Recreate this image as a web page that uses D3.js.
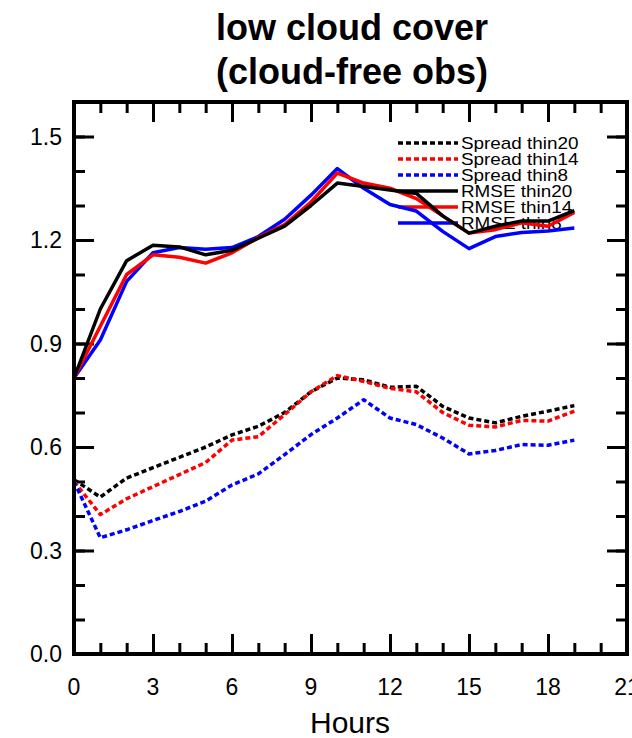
<!DOCTYPE html>
<html>
<head>
<meta charset="utf-8">
<script src="https://cdn.jsdelivr.net/npm/d3@7"></script>
<style>
  body { margin: 0; background: #fff; }
  text { font-family: "Liberation Sans", Arial, Helvetica, sans-serif; fill: #000; }
</style>
</head>
<body>
<div id="chart"></div>
<script>
//===============================
//  1.  Data
//===============================

var hours = [0, 1, 2, 3, 4, 5, 6, 7, 8, 9, 10, 11, 12, 13, 14, 15, 16, 17, 18, 19];

var spreadThin20 = [0.505, 0.455, 0.51, 0.54, 0.57, 0.60, 0.635, 0.66, 0.70, 0.76, 0.80, 0.795, 0.773, 0.776, 0.718, 0.684, 0.67, 0.689, 0.704, 0.72];
var spreadThin14 = [0.50, 0.404, 0.45, 0.485, 0.52, 0.555, 0.62, 0.63, 0.694, 0.76, 0.807, 0.79, 0.77, 0.76, 0.70, 0.663, 0.658, 0.677, 0.675, 0.704];
var spreadThin8  = [0.50, 0.337, 0.36, 0.387, 0.413, 0.443, 0.49, 0.522, 0.578, 0.636, 0.684, 0.737, 0.684, 0.665, 0.626, 0.58, 0.59, 0.607, 0.605, 0.62];

var rmseThin20 = [0.80, 1.00, 1.14, 1.185, 1.18, 1.157, 1.17, 1.205, 1.24, 1.30, 1.365, 1.355, 1.345, 1.335, 1.27, 1.22, 1.24, 1.255, 1.255, 1.285];
var rmseThin14 = [0.80, 0.95, 1.10, 1.157, 1.15, 1.133, 1.163, 1.207, 1.245, 1.31, 1.394, 1.365, 1.35, 1.32, 1.27, 1.22, 1.23, 1.25, 1.24, 1.28];
var rmseThin8  = [0.80, 0.91, 1.08, 1.163, 1.178, 1.173, 1.178, 1.21, 1.26, 1.33, 1.407, 1.35, 1.303, 1.284, 1.225, 1.175, 1.21, 1.222, 1.226, 1.235];

var xTicks = [0, 3, 6, 9, 12, 15, 18, 21];
var yTicks = [0.0, 0.3, 0.6, 0.9, 1.2, 1.5];

var seriesNames = ["Spread thin20", "Spread thin14", "Spread thin8", "RMSE thin20", "RMSE thin14", "RMSE thin8"];

//===============================
//  2.  Set up chart area
//===============================

var svgWidth = 632;
var svgHeight = 738;

var frame = { left: 74, right: 627, top: 102, bottom: 654 };

var svg = d3.select("#chart")
  .append("svg")
  .attr("width", svgWidth)
  .attr("height", svgHeight);

var xScale = d3.scaleLinear().domain([0, 21]).range([frame.left, frame.right]);
var yScale = d3.scaleLinear().domain([0, 1.6]).range([frame.bottom, frame.top]);

// title
svg.append("text")
  .attr("x", 352).attr("y", 40)
  .attr("text-anchor", "middle")
  .attr("font-size", "36px")
  .attr("font-weight", "bold")
  .text("low cloud cover");

svg.append("text")
  .attr("x", 352).attr("y", 84)
  .attr("text-anchor", "middle")
  .attr("font-size", "36px")
  .attr("font-weight", "bold")
  .text("(cloud-free obs)");

//===============================
//  3.  Axes (ticks inside, all four sides)
//===============================

var xMinor = d3.range(0, 22, 1);
var yMinor = d3.range(0, 17, 1).map(d => d / 10);

function addAxis(axisFn, scale, values, size, transform) {
  svg.append("g")
    .attr("transform", transform)
    .call(axisFn(scale).tickValues(values).tickSize(size).tickFormat(""))
    .call(g => g.select(".domain").remove())
    .selectAll("line")
    .attr("stroke", "#000")
    .attr("stroke-width", 3);
}

// bottom + top
addAxis(d3.axisTop, xScale, xMinor, 11, `translate(0, ${frame.bottom})`);
addAxis(d3.axisTop, xScale, xTicks, 20, `translate(0, ${frame.bottom})`);
addAxis(d3.axisBottom, xScale, xMinor, 11, `translate(0, ${frame.top})`);
addAxis(d3.axisBottom, xScale, xTicks, 20, `translate(0, ${frame.top})`);
// left + right
addAxis(d3.axisRight, yScale, yMinor, 11, `translate(${frame.left}, 0)`);
addAxis(d3.axisRight, yScale, yTicks, 20, `translate(${frame.left}, 0)`);
addAxis(d3.axisLeft, yScale, yMinor, 11, `translate(${frame.right}, 0)`);
addAxis(d3.axisLeft, yScale, yTicks, 20, `translate(${frame.right}, 0)`);

// tick labels
svg.append("g").selectAll("text")
  .data(xTicks)
  .enter()
  .append("text")
  .attr("x", d => xScale(d))
  .attr("y", 695)
  .attr("text-anchor", "middle")
  .attr("font-size", "23px")
  .text(d => d);

svg.append("g").selectAll("text")
  .data(yTicks)
  .enter()
  .append("text")
  .attr("x", 62)
  .attr("y", d => yScale(d))
  .attr("dy", "0.36em")
  .attr("text-anchor", "end")
  .attr("font-size", "23px")
  .text(d => d3.format(".1f")(d));

// x axis title
svg.append("text")
  .attr("x", 350).attr("y", 733)
  .attr("text-anchor", "middle")
  .attr("font-size", "30px")
  .text("Hours");

//===============================
//  4.  Legend
//===============================

var legendColors = ["#000", "#f00", "#00f", "#000", "#f00", "#00f"];
var legend = svg.append("g");

seriesNames.forEach((name, i) => {
  var ly = 143 + i * 16;
  legend.append("line")
    .attr("x1", 398).attr("x2", 458)
    .attr("y1", ly).attr("y2", ly)
    .attr("stroke", legendColors[i])
    .attr("stroke-width", 3.5)
    .attr("stroke-dasharray", i < 3 ? "5,3" : null);
  // legend font in the original is wide, so stretch it horizontally
  legend.append("text")
    .attr("transform", `translate(461, ${ly}) scale(1.18, 1)`)
    .attr("dy", "0.36em")
    .attr("font-size", "16px")
    .text(name);
});

//===============================
//  5.  Lines
//===============================

var line = d3.line()
  .x((d, i) => xScale(hours[i]))
  .y(d => yScale(d));

var series = [
  { values: spreadThin20, color: "#000", dash: "5,3" },
  { values: spreadThin14, color: "#f00", dash: "5,3" },
  { values: spreadThin8,  color: "#00f", dash: "5,3" },
  { values: rmseThin8,    color: "#00f", dash: null },
  { values: rmseThin14,   color: "#f00", dash: null },
  { values: rmseThin20,   color: "#000", dash: null }
];

svg.append("g").selectAll("path")
  .data(series)
  .enter()
  .append("path")
  .attr("d", d => line(d.values))
  .attr("fill", "none")
  .attr("stroke", d => d.color)
  .attr("stroke-width", 3.5)
  .attr("stroke-linejoin", "round")
  .attr("stroke-dasharray", d => d.dash);

// frame on top
svg.append("rect")
  .attr("x", frame.left).attr("y", frame.top)
  .attr("width", frame.right - frame.left)
  .attr("height", frame.bottom - frame.top)
  .attr("fill", "none")
  .attr("stroke", "#000")
  .attr("stroke-width", 4);
</script>
</body>
</html>
